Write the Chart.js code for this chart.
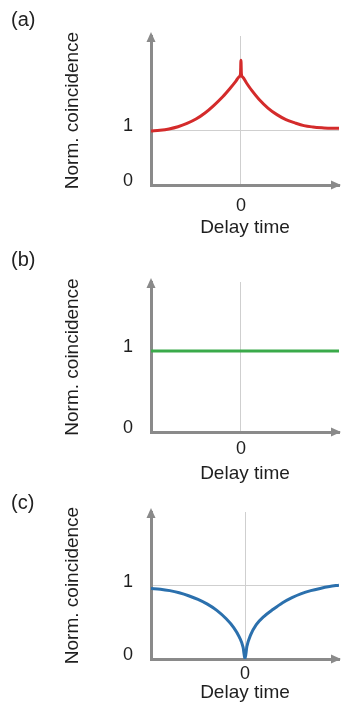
<!DOCTYPE html>
<html>
<head>
<meta charset="utf-8">
<script src="https://cdn.jsdelivr.net/npm/chart.js@4.4.1/dist/chart.umd.min.js"></script>
<style>
  body { margin: 0; background: #fff; }
  #page { position: relative; width: 342px; height: 713px; overflow: hidden; }
  .panel { position: absolute; left: 0; width: 342px; }
  .tag { position: absolute; left: 11px; font: 20px "Liberation Sans", Arial, sans-serif; line-height: 20px; color: #222; }
</style>
</head>
<body>
<div id="page">
  <div class="panel" style="top:0;height:240px"><canvas id="chartA"></canvas></div>
  <div class="panel" style="top:240px;height:245px"><canvas id="chartB"></canvas></div>
  <div class="panel" style="top:480px;height:233px"><canvas id="chartC"></canvas></div>
  <div class="tag" style="top:9px">(a)</div>
  <div class="tag" style="top:249px">(b)</div>
  <div class="tag" style="top:492px">(c)</div>
</div>
<script>
// (a) bunching: peak at zero delay
const delayA = [-1, -0.9, -0.8, -0.7, -0.6, -0.5, -0.4, -0.3, -0.2, -0.12, -0.06, -0.02, -0.005, 0, 0.005, 0.02, 0.06, 0.12, 0.2, 0.3, 0.4, 0.5, 0.6, 0.7, 0.8, 0.9, 1.0, 1.09];
const normA  = [0.98, 0.995, 1.02, 1.06, 1.12, 1.20, 1.31, 1.45, 1.61, 1.76, 1.88, 1.97, 2.02, 2.27, 2.02, 1.96, 1.86, 1.72, 1.56, 1.40, 1.28, 1.19, 1.13, 1.08, 1.055, 1.04, 1.03, 1.03];

// (b) coherent: flat
const delayB = [-1, 1.09];
const normB  = [1, 1];

// (c) antibunching: dip to zero
const delayC = [-1, -0.9, -0.8, -0.7, -0.6, -0.5, -0.4, -0.3, -0.2, -0.12, -0.06, -0.02, 0, 0.02, 0.06, 0.12, 0.2, 0.3, 0.4, 0.5, 0.6, 0.7, 0.8, 0.9, 1.0];
const normC  = [0.965, 0.955, 0.935, 0.905, 0.865, 0.815, 0.75, 0.665, 0.55, 0.43, 0.30, 0.16, 0, 0.17, 0.33, 0.47, 0.58, 0.68, 0.77, 0.84, 0.895, 0.935, 0.965, 0.99, 1.01];

const yTicks = [0, 1];
const xTicks = [0];
const yTitle = 'Norm. coincidence';
const xTitle = 'Delay time';

const axisGrey = '#8a8a8a';
const guideGrey = '#cfcfcf';
const textColor = '#1e1e1e';
const fontFamily = '"Liberation Sans", Arial, sans-serif';

// arrow heads on the ends of both axes
const axisArrows = {
    id: 'axisArrows',
    afterDraw(chart) {
        const ctx = chart.ctx;
        const a = chart.chartArea;
        ctx.save();
        ctx.fillStyle = axisGrey;
        ctx.beginPath();
        ctx.moveTo(a.left, a.top - 4);
        ctx.lineTo(a.left - 4.5, a.top + 6);
        ctx.lineTo(a.left + 4.5, a.top + 6);
        ctx.closePath();
        ctx.fill();
        ctx.beginPath();
        ctx.moveTo(a.right + 2, a.bottom);
        ctx.lineTo(a.right - 8, a.bottom - 4.5);
        ctx.lineTo(a.right - 8, a.bottom + 4.5);
        ctx.closePath();
        ctx.fill();
        ctx.restore();
    }
};

function makePanel(id, delay, norm, color, o) {
    const points = delay.map((d, i) => ({ x: d, y: norm[i] }));
    return new Chart(document.getElementById(id), {
        type: 'line',
        data: {
            datasets: [{
                data: points,
                borderColor: color,
                borderWidth: 3,
                pointRadius: 0,
                fill: false,
                cubicInterpolationMode: 'monotone'
            }]
        },
        options: {
            responsive: true,
            maintainAspectRatio: false,
            animation: false,
            layout: { padding: { top: o.top, right: 3, left: 0, bottom: 0 } },
            plugins: { legend: { display: false }, tooltip: { enabled: false } },
            scales: {
                x: {
                    type: 'linear',
                    min: -1,
                    max: o.xMax,
                    afterBuildTicks: (scale) => { scale.ticks = xTicks.map(v => ({ value: v })); },
                    afterFit: (scale) => { scale.height = o.xHeight; },
                    grid: {
                        drawTicks: false,
                        lineWidth: 1,
                        color: (c) => c.tick && c.tick.value === 0 ? guideGrey : 'rgba(0,0,0,0)'
                    },
                    border: { display: true, color: axisGrey, width: 3 },
                    ticks: {
                        padding: o.tickPad,
                        maxRotation: 0,
                        color: textColor,
                        font: { family: fontFamily, size: 18 },
                        callback: (v) => String(v)
                    },
                    title: {
                        display: true,
                        text: xTitle,
                        color: textColor,
                        font: { family: fontFamily, size: 19 },
                        padding: { top: 0, bottom: o.titlePad }
                    }
                },
                y: {
                    type: 'linear',
                    min: 0,
                    max: o.yMax,
                    afterBuildTicks: (scale) => { scale.ticks = yTicks.map(v => ({ value: v })); },
                    afterFit: (scale) => { scale.width = 151; },
                    grid: {
                        drawTicks: false,
                        lineWidth: 1,
                        color: (c) => c.tick && c.tick.value === 1 ? guideGrey : 'rgba(0,0,0,0)'
                    },
                    border: { display: true, color: axisGrey, width: 3 },
                    ticks: {
                        padding: 18,
                        labelOffset: -4,
                        color: textColor,
                        font: { family: fontFamily, size: 18 },
                        callback: (v) => String(v)
                    },
                    title: {
                        display: true,
                        text: yTitle,
                        color: textColor,
                        font: { family: fontFamily, size: 19 },
                        padding: { top: 61, bottom: 0 }
                    }
                }
            }
        },
        plugins: [axisArrows]
    });
}

makePanel('chartA', delayA, normA, '#d42b2b', { top: 36, xHeight: 55, xMax: 1.09, yMax: 2.71, tickPad: 10, titlePad: 1 });
makePanel('chartB', delayB, normB, '#3aaa4a', { top: 42, xHeight: 53, xMax: 1.09, yMax: 1.85, tickPad: 6, titlePad: 0 });
makePanel('chartC', delayC, normC, '#2b70ad', { top: 32, xHeight: 54, xMax: 1.0, yMax: 2.01, tickPad: 4, titlePad: 9 });
</script>
</body>
</html>
